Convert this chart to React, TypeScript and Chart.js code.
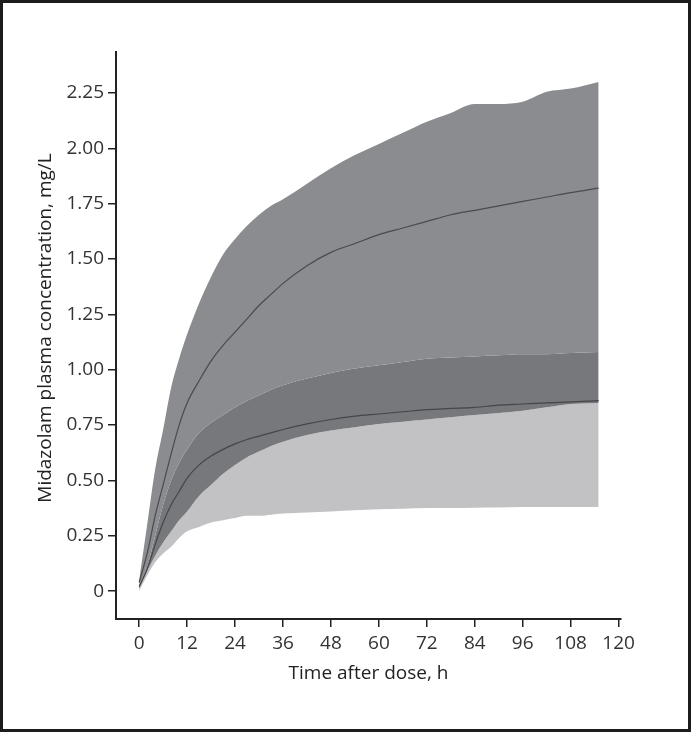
import React, { useEffect, useRef } from "react";
import { Chart, registerables } from "chart.js";

Chart.register(...registerables);

const times = [0, 2, 4, 6, 8, 10, 12, 15, 18, 21, 24, 27, 30, 33, 36, 42, 48, 54, 60, 66, 72, 78, 84, 90, 96, 102, 108, 115];

// Upper (higher) prediction interval and median
const highUpper = [0.05, 0.30, 0.55, 0.73, 0.92, 1.05, 1.16, 1.30, 1.42, 1.52, 1.59, 1.65, 1.70, 1.74, 1.77, 1.84, 1.91, 1.97, 2.02, 2.07, 2.12, 2.16, 2.20, 2.20, 2.21, 2.255, 2.27, 2.30];
const highMedian = [0.04, 0.17, 0.34, 0.48, 0.62, 0.75, 0.85, 0.95, 1.04, 1.11, 1.17, 1.23, 1.29, 1.34, 1.39, 1.47, 1.53, 1.57, 1.61, 1.64, 1.67, 1.70, 1.72, 1.74, 1.76, 1.78, 1.80, 1.82];
const highLower = [0.01, 0.09, 0.16, 0.22, 0.27, 0.32, 0.36, 0.43, 0.48, 0.53, 0.57, 0.605, 0.63, 0.655, 0.675, 0.705, 0.725, 0.74, 0.755, 0.765, 0.775, 0.785, 0.795, 0.805, 0.815, 0.83, 0.845, 0.85];

// Lower prediction interval and median
const lowUpper = [0.03, 0.11, 0.25, 0.39, 0.50, 0.58, 0.64, 0.715, 0.76, 0.795, 0.83, 0.86, 0.885, 0.91, 0.93, 0.96, 0.985, 1.005, 1.02, 1.035, 1.05, 1.055, 1.06, 1.065, 1.07, 1.07, 1.075, 1.08];
const lowMedian = [0.02, 0.10, 0.21, 0.31, 0.39, 0.45, 0.51, 0.57, 0.61, 0.64, 0.665, 0.685, 0.70, 0.715, 0.73, 0.755, 0.775, 0.79, 0.80, 0.81, 0.82, 0.825, 0.83, 0.84, 0.845, 0.85, 0.855, 0.86];
const lowLower = [0.00, 0.07, 0.13, 0.17, 0.20, 0.24, 0.27, 0.29, 0.31, 0.32, 0.33, 0.34, 0.34, 0.345, 0.35, 0.355, 0.36, 0.365, 0.37, 0.372, 0.375, 0.375, 0.377, 0.378, 0.38, 0.38, 0.38, 0.38];

const xTicks = [0, 12, 24, 36, 48, 60, 72, 84, 96, 108, 120];
const yTicks = [0, 0.25, 0.5, 0.75, 1.0, 1.25, 1.5, 1.75, 2.0, 2.25];

const xTitle = "Time after dose, h";
const yTitle = "Midazolam plasma concentration, mg/L";

const pts = (arr: number[]) => times.map((t, i) => ({ x: t, y: arr[i] }));

const FONT = "'Open Sans', 'Noto Sans', sans-serif";

export default function App() {
  const ref = useRef<HTMLCanvasElement>(null);

  useEffect(() => {
    document.body.style.margin = "0";
    const canvas = ref.current;
    if (!canvas) return;

    const framePlugin = {
      id: "frame",
      beforeDraw(chart: any) {
        const c = chart.ctx;
        c.save();
        c.fillStyle = "#ffffff";
        c.fillRect(0, 0, chart.width, chart.height);
        c.restore();
      },
      afterDraw(chart: any) {
        const c = chart.ctx;
        c.save();
        // y-axis title
        c.translate(46, 328);
        c.rotate(-Math.PI / 2);
        c.font = `19px ${FONT}`;
        c.fillStyle = "#222";
        c.textAlign = "center";
        c.textBaseline = "middle";
        c.fillText(yTitle, 0, 0);
        c.restore();
        c.save();
        c.strokeStyle = "#1c1c1c";
        c.lineWidth = 3;
        c.strokeRect(1.5, 1.5, chart.width - 3, chart.height - 3);
        c.restore();
      },
    };

    const fillDs = (label: string, data: number[], color: string, target: any) => ({
      label,
      data: pts(data),
      borderWidth: 0,
      borderColor: color,
      backgroundColor: color,
      pointRadius: 0,
      fill: target,
      cubicInterpolationMode: "monotone" as const,
      order: 2,
    });

    const chart = new Chart(canvas, {
      type: "line",
      data: {
        datasets: [
          fillDs("highUpper", highUpper, "#8b8c8f", 1),
          fillDs("lowUpper", lowUpper, "#77787b", 2),
          fillDs("highLower", highLower, "#c2c2c4", 3),
          fillDs("lowLower", lowLower, "#c2c2c4", false),
          {
            label: "highMedian",
            data: pts(highMedian),
            borderColor: "#4a4a4f",
            borderWidth: 1.2,
            pointRadius: 0,
            fill: false,
            cubicInterpolationMode: "monotone",
            order: 1,
          },
          {
            label: "lowMedian",
            data: pts(lowMedian),
            borderColor: "#45454a",
            borderWidth: 1.2,
            pointRadius: 0,
            fill: false,
            cubicInterpolationMode: "monotone",
            order: 1,
          },
        ],
      },
      options: {
        responsive: false,
        animation: false,
        devicePixelRatio: 1,
        layout: { padding: { top: 52, right: 70, left: 0, bottom: 0 } },
        plugins: {
          legend: { display: false },
          tooltip: { enabled: false },
        },
        scales: {
          x: {
            type: "linear",
            min: -5.8,
            max: 120.6,
            afterBuildTicks: (axis: any) => {
              axis.ticks = xTicks.map((v) => ({ value: v }));
            },
            afterFit: (axis: any) => {
              axis.height = 113;
            },
            ticks: {
              color: "#333",
              font: { family: FONT, size: 19 },
              padding: 5,
              maxRotation: 0,
              autoSkip: false,
              callback: (v: any) => String(v),
            },
            grid: {
              display: true,
              drawOnChartArea: false,
              drawTicks: true,
              tickLength: 8,
              color: "#222",
              lineWidth: 1.5,
            },
            border: { display: true, color: "#222", width: 2 },
            title: {
              display: true,
              text: xTitle,
              color: "#222",
              font: { family: FONT, size: 19 },
              padding: { top: 0, bottom: 47 },
            },
          },
          y: {
            type: "linear",
            min: -0.126,
            max: 2.435,
            afterBuildTicks: (axis: any) => {
              axis.ticks = yTicks.map((v) => ({ value: v }));
            },
            afterFit: (axis: any) => {
              axis.width = 116;
            },
            ticks: {
              color: "#333",
              font: { family: FONT, size: 19 },
              padding: 4,
              autoSkip: false,
              callback: (v: any) => (Number(v) === 0 ? "0" : Number(v).toFixed(2)),
            },
            grid: {
              display: true,
              drawOnChartArea: false,
              drawTicks: true,
              tickLength: 8,
              color: "#222",
              lineWidth: 1.5,
            },
            border: { display: true, color: "#222", width: 2 },
            title: { display: false },
          },
        },
      },
      plugins: [framePlugin],
    });

    return () => chart.destroy();
  }, []);

  return (
    <div style={{ position: "absolute", left: 0, top: 0, width: 691, height: 732 }}>
      <canvas ref={ref} width={691} height={732} style={{ width: 691, height: 732, display: "block" }} />
    </div>
  );
}
